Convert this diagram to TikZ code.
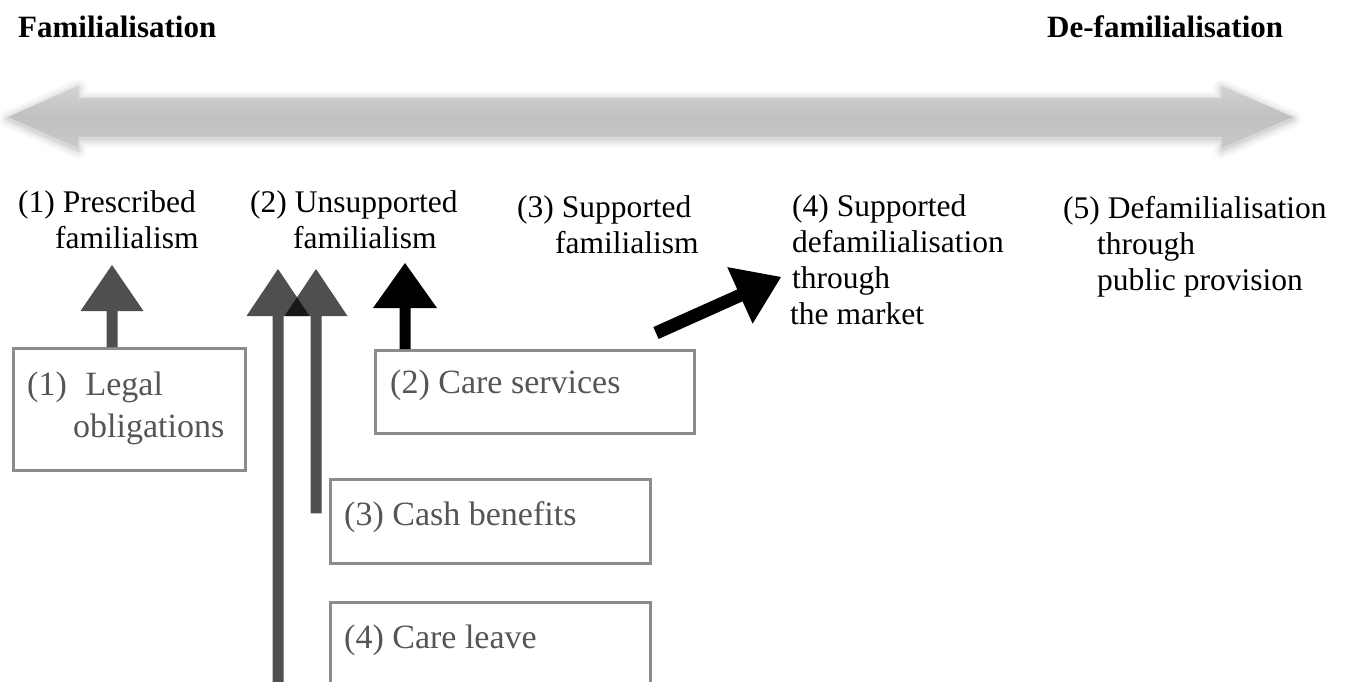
\documentclass[tikz,border=0pt]{standalone}
\newif\ifpal
\IfFileExists{pplr8t.tfm}{\IfFileExists{mathpazo.sty}{\paltrue}{}}{}
\ifpal
  \usepackage[T1]{fontenc}
  \usepackage{mathpazo}
  \def\fsL{24}\def\fsB{27}\def\fsT{24}
\else
  \usepackage{fontspec}
  \setmainfont{Liberation Serif}
  \def\fsL{31.5}\def\fsB{34}\def\fsT{31}
\fi
\usetikzlibrary{calc}
\definecolor{boxgray}{HTML}{8C8C8C}
\definecolor{txtgray}{HTML}{555555}
\definecolor{biggray}{HTML}{C0C0C0}
\newcommand{\mylines}[1]{\parbox[t]{400pt}{\raggedright #1}}
% #1 style, #2 tail, #3 tip, #4 shaft half width, #5 head half width, #6 head length
\newcommand{\fatarrow}[6]{%
  \coordinate (fa-b) at ($(#3)!#6!(#2)$);
  \fill[#1] ($(#2)!#4!90:(#3)$) -- ($(fa-b)!#4!90:(#3)$) -- ($(fa-b)!#5!90:(#3)$)
     -- (#3) -- ($(fa-b)!#5!-90:(#3)$) -- ($(fa-b)!#4!-90:(#3)$) -- ($(#2)!#4!-90:(#3)$) -- cycle;}
\begin{document}
\begin{tikzpicture}[x=1pt,y=-1pt,
  title/.style={font=\fontsize{\fsT}{30}\selectfont\bfseries, anchor=base west, inner sep=0},
  lab/.style={font=\fontsize{\fsL}{36}\selectfont, anchor=base west, inner sep=0},
  boxtxt/.style={font=\fontsize{\fsB}{42}\selectfont, text=txtgray, anchor=base west, inner sep=0},
  frame/.style={draw=boxgray, line width=2.5pt, anchor=north west, inner sep=0},
  grayarr/.style={fill=black, fill opacity=0.69},
  blackarr/.style={fill=black}]
\useasboundingbox (0,0) rectangle (1346,682);

% titles
\node[title] (tl) at (18,38) {Familialisation};
\node[title] (tr) at (1047,38) {De-familialisation};

% big double arrow
\def\bigpoly{(8,117) -- (78,86) -- (78,98) -- (1222,98) -- (1222,86) -- (1293,117) -- (1222,148) -- (1222,137) -- (78,137) -- (78,148) -- cycle}
\foreach \w/\o in {18/0.02,14/0.025,10/0.03,6/0.04,3/0.05}
  \draw[line width=\w pt, black, opacity=\o, line join=round, yshift=-2pt] \bigpoly;
\shade[top color=biggray!70!white, bottom color=biggray!85!white, middle color=biggray] \bigpoly;

% labels
\node[lab] (l1) at (18,212) {\mylines{(1) Prescribed\\\hspace*{37pt}familialism}};
\node[lab] (l2) at (250,212) {\mylines{(2) Unsupported\\\hspace*{43pt}familialism}};
\node[lab] (l3) at (517,217) {\mylines{(3) Supported\\\hspace*{38pt}familialism}};
\node[lab] (l4) at (792,216) {\mylines{(4) Supported\\defamilialisation\\through\\\hspace*{-2pt}the market}};
\node[lab] (l5) at (1063,218) {\mylines{(5) Defamilialisation\\\hspace*{34pt}through\\\hspace*{34pt}public provision}};

% boxes
\node[frame, minimum width=232, minimum height=122] (b1) at (12,347) {};
\node[frame, minimum width=319, minimum height=83] (b2) at (374,349) {};
\node[frame, minimum width=320, minimum height=84] (b3) at (329,478) {};
\node[frame, minimum width=320, minimum height=84] (b4) at (329,601) {};
\node[boxtxt] (t1) at ($(b1.north west)+(15,48)$) {\mylines{(1)\hspace{0.55em}Legal\\\hspace*{46pt}obligations}};
\node[boxtxt] (t2) at ($(b2.north west)+(16,44)$) {(2) Care services};
\node[boxtxt] (t3) at ($(b3.north west)+(15,47)$) {(3) Cash benefits};
\node[boxtxt] (t4) at ($(b4.north west)+(15,47)$) {(4) Care leave};

% connector end points
\coordinate (a1t) at ($(b1.north west)+(100,0)$);
\coordinate (a1p) at (112,265);
\coordinate (a2t) at (278,690);
\coordinate (a2p) at (278,269);
\coordinate (a3t) at ($(b3.west)+(-13,-8)$);
\coordinate (a3p) at (316,269);
\coordinate (a4t) at ($(b2.north west)+(31,0)$);
\coordinate (a4p) at (405,263);
\coordinate (a5t) at (656,333);
\coordinate (a5p) at (781,277);

\fatarrow{grayarr}{a1t}{a1p}{5.5pt}{31.5pt}{46pt}
\fatarrow{grayarr}{a2t}{a2p}{5.5pt}{31.5pt}{47pt}
\fatarrow{grayarr}{a3t}{a3p}{5.5pt}{31.5pt}{47pt}
\fatarrow{blackarr}{a4t}{a4p}{5.5pt}{32pt}{45pt}
\fatarrow{blackarr}{a5t}{a5p}{6.5pt}{31pt}{45pt}
\end{tikzpicture}
\end{document}
